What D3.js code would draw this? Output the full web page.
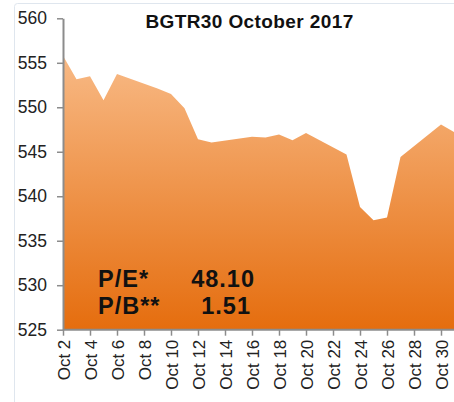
<!DOCTYPE html>
<html><head><meta charset="utf-8">
<script src="https://cdn.jsdelivr.net/npm/d3@7"></script>
<style>body{margin:0;background:#fff}svg{display:block}</style>
</head><body>
<script>
const dates = ["2017-10-02","2017-10-03","2017-10-04","2017-10-05","2017-10-06","2017-10-09","2017-10-10","2017-10-11","2017-10-12","2017-10-13","2017-10-16","2017-10-17","2017-10-18","2017-10-19","2017-10-20","2017-10-23","2017-10-24","2017-10-25","2017-10-26","2017-10-27","2017-10-30","2017-10-31"];
const values = [555.8,553.15,553.5,550.8,553.75,552.1,551.5,549.9,546.4,546.05,546.7,546.6,546.95,546.3,547.1,544.7,538.8,537.3,537.6,544.4,548.05,547.2];
const yTicks = [525,530,535,540,545,550,555,560];
const xTickDays = [2,4,6,8,10,12,14,16,18,20,22,24,26,28,30];
const title = "BGTR30 October 2017";
const statLabels = ["P/E*","P/B**"];
const statValues = ["48.10","1.51"];

const W=454,H=402;
const FONT="Liberation Sans, Arial, sans-serif";
const svg=d3.select("body").append("svg").attr("width",W).attr("height",H);
const parse=d3.utcParse("%Y-%m-%d");
const data=dates.map((d,i)=>({d:parse(d),v:values[i]}));

// outer frame
svg.append("rect").attr("x",14.5).attr("y",3.5).attr("width",460).attr("height",420).attr("rx",3)
  .attr("fill","none").attr("stroke","#dfe6ee").attr("stroke-width",1);

const x=d3.scaleUtc().domain([parse("2017-10-02"),parse("2017-10-30")]).range([63,441]);
const y=d3.scaleLinear().domain([525,560]).range([329.7,18.3]);

const defs=svg.append("defs");
const g=defs.append("linearGradient").attr("id","gr").attr("x1",0).attr("x2",0)
  .attr("gradientUnits","userSpaceOnUse").attr("y1",y(556)).attr("y2",y(525));
g.append("stop").attr("offset",0).attr("stop-color","#f8ba86");
g.append("stop").attr("offset",1).attr("stop-color","#e56d0e");

const area=d3.area().x(d=>x(d.d)).y0(y(525)).y1(d=>y(d.v));
svg.append("path").datum(data).attr("d",area).attr("fill","url(#gr)");

// y axis
const ya=svg.append("g").attr("transform","translate(63,0)")
  .call(d3.axisLeft(y).tickValues(yTicks).tickSize(6).tickSizeOuter(0).tickPadding(10));
ya.select(".domain").attr("stroke","#8c8c8c").attr("stroke-width",2);
ya.selectAll(".tick line").attr("stroke","#8c8c8c").attr("stroke-width",1.5);
ya.selectAll("text").attr("font-family",FONT).attr("font-size",17.5).attr("fill","#222");

// x axis
const xa=svg.append("g").attr("transform",`translate(0,${y(525)})`)
  .call(d3.axisBottom(x).tickValues(xTickDays.map(d=>new Date(Date.UTC(2017,9,d)))).tickSize(6).tickSizeOuter(0)
  .tickFormat(d3.utcFormat("Oct %-d")));
xa.select(".domain").attr("stroke","#8c8c8c").attr("stroke-width",2).attr("d","M63,0H460");
xa.selectAll(".tick line").attr("stroke","#8c8c8c").attr("stroke-width",1.5);
xa.selectAll("text").attr("font-family",FONT).attr("font-size",17).attr("fill","#222")
  .attr("transform","rotate(-90)").attr("text-anchor","end").attr("x",-10).attr("y",0).attr("dy","0.36em");

svg.append("text").attr("x",249.5).attr("y",27.5).attr("text-anchor","middle")
  .attr("font-family",FONT).attr("font-weight","bold").attr("font-size",19).attr("letter-spacing",0.4)
  .attr("fill","#111").text(title);

const st=svg.append("g").attr("font-family",FONT).attr("font-weight","bold").attr("font-size",23.5).attr("letter-spacing",1).attr("fill","#111");
const rightEdges=[254,250];
statLabels.forEach((s,i)=>{
  st.append("text").attr("x",98).attr("y",286.7+i*27.6).text(s);
  st.append("text").attr("x",rightEdges[i]+1).attr("y",286.7+i*27.6).attr("text-anchor","end").text(statValues[i]);
});
</script>
</body></html>
